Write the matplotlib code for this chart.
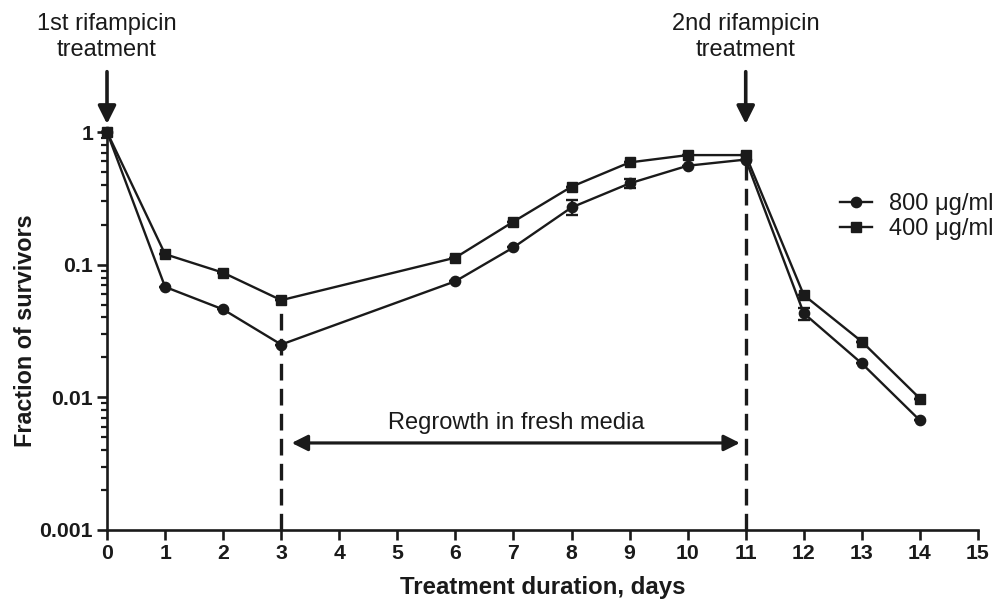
import matplotlib
matplotlib.use("Agg")
import matplotlib.pyplot as plt
from matplotlib.lines import Line2D
from matplotlib import transforms

plt.rcParams['font.family'] = ['Liberation Sans', 'DejaVu Sans']

days = [0, 1, 2, 3, 6, 7, 8, 9, 10, 11, 12, 13, 14]
surv_800 = [1.0, 0.068, 0.046, 0.025, 0.075, 0.135, 0.27, 0.41, 0.557, 0.62, 0.043, 0.018, 0.0067]
err_800 = [0, 0, 0, 0, 0, 0, 0.035, 0.03, 0, 0, 0.0045, 0, 0]
surv_400 = [1.0, 0.12, 0.087, 0.054, 0.113, 0.211, 0.387, 0.59, 0.67, 0.67, 0.059, 0.0263, 0.0098]
err_400 = [0, 0, 0, 0, 0, 0, 0, 0, 0, 0, 0, 0, 0]
labels = ["800 \u03bcg/ml", "400 \u03bcg/ml"]
markers = ['o', 's']
x_ticks = list(range(0, 16))
y_ticks = [0.001, 0.01, 0.1, 1]
y_tick_labels = ["0.001", "0.01", "0.1", "1"]

INK = '#1a1a1a'


def main():
    fig = plt.figure(figsize=(10.01, 5.99), dpi=100)
    ax = fig.add_axes([0.1069, 0.1152, 0.8701, 0.6644])

    line_kw = dict(color=INK, linewidth=1.7, markersize=7.4, elinewidth=1.7,
                   capsize=4.5, capthick=1.7, clip_on=False, zorder=3)
    ax.errorbar(days, surv_800, yerr=err_800, marker=markers[0], **line_kw)
    ax.errorbar(days, surv_400, yerr=err_400, marker=markers[1], **line_kw)

    ax.set_yscale('log')
    ax.set_xlim(0, 15)
    ax.set_ylim(0.001, 1)
    ax.set_xticks(x_ticks)
    ax.set_yticks(y_ticks)
    ax.set_yticklabels(y_tick_labels)

    for side in ('top', 'right'):
        ax.spines[side].set_visible(False)
    for side in ('left', 'bottom'):
        ax.spines[side].set_linewidth(1.9)
        ax.spines[side].set_color(INK)

    ax.tick_params(axis='both', which='major', length=7, width=1.9, color=INK,
                   labelsize=15.3, pad=3)
    ax.tick_params(axis='y', which='minor', length=4.5, width=1.6, color=INK)
    for lbl in ax.get_xticklabels() + ax.get_yticklabels():
        lbl.set_fontweight('bold')
        lbl.set_color(INK)

    ax.set_xlabel("Treatment duration, days", fontsize=17.3, fontweight='bold', labelpad=9.5,
                  color=INK)
    ax.set_ylabel("Fraction of survivors", fontsize=16.8, fontweight='bold', labelpad=2,
                  color=INK)

    # dashed lines marking the end of treatment periods
    i3 = days.index(3)
    i11 = days.index(11)
    ax.plot([3, 3], [0.001, surv_400[i3]], color=INK, linewidth=2.4,
            dashes=(5, 2.5), zorder=2, clip_on=False)
    ax.plot([11, 11], [0.001, surv_400[i11]], color=INK, linewidth=2.4,
            dashes=(5, 2.5), zorder=2, clip_on=False)

    # regrowth arrow
    ax.annotate("", xy=(3.18, 0.00453), xytext=(10.9, 0.00453),
                arrowprops=dict(arrowstyle='<|-|>', color=INK, linewidth=2.3,
                                mutation_scale=24, shrinkA=0, shrinkB=0))
    ax.text(7.04, 0.0064, "Regrowth in fresh media", ha='center', va='center',
            fontsize=17, color=INK)

    # treatment arrows and labels
    blend = transforms.blended_transform_factory(ax.transData, fig.transFigure)
    for xd, txt in [(0, "1st rifampicin\ntreatment"), (11, "2nd rifampicin\ntreatment")]:
        ax.annotate("", xy=(xd, 1.15), xytext=(xd, 2.85),
                    arrowprops=dict(arrowstyle='-|>', color=INK, linewidth=2.6,
                                    mutation_scale=27, shrinkA=0, shrinkB=0),
                    annotation_clip=False)
        ax.text(xd, 1.0 - 37 / 599, txt, ha='center', va='center', fontsize=17,
                color=INK, linespacing=1.25, transform=blend)

    handles = [Line2D([], [], color=INK, linewidth=1.7, marker=m, markersize=7.4) for m in markers]
    leg = fig.legend(handles, labels, loc='upper left', bbox_to_anchor=(0.839, 1 - 193 / 599),
                     frameon=False, fontsize=17, handlelength=1.35, handletextpad=0.75,
                     labelspacing=0.12, borderpad=0, borderaxespad=0)
    for t in leg.get_texts():
        t.set_color(INK)

    fig.savefig("out.png", dpi=100)


if __name__ == '__main__':
    main()
